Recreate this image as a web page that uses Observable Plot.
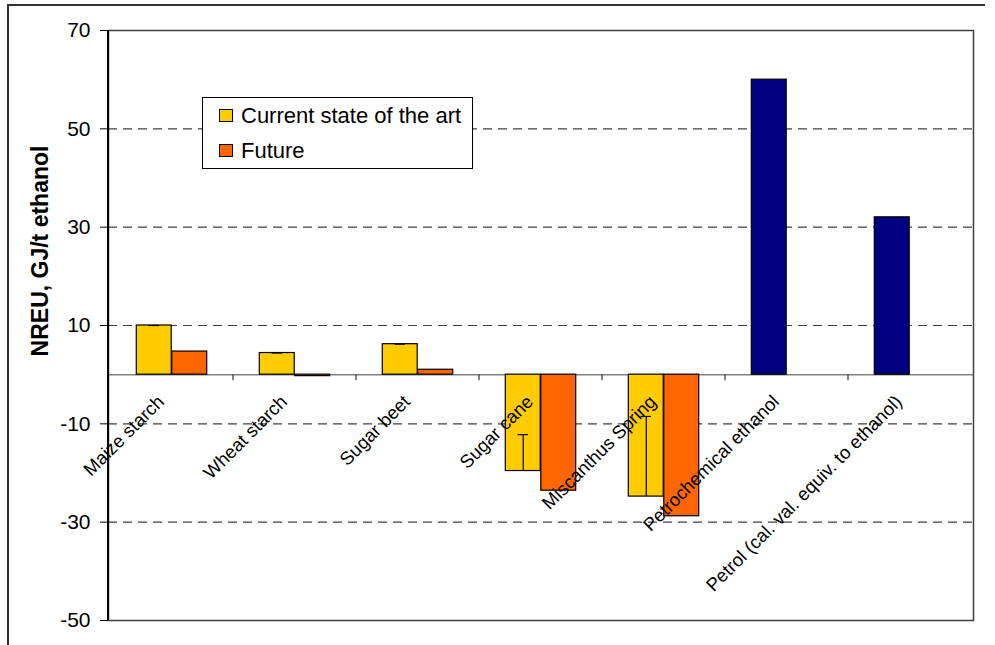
<!DOCTYPE html>
<html>
<head>
<meta charset="utf-8">
<script src="https://cdn.jsdelivr.net/npm/d3@7"></script>
<script src="https://cdn.jsdelivr.net/npm/@observablehq/plot@0.6"></script>
<style>
  html, body { margin: 0; padding: 0; background: #fff; }
  #wrap { position: relative; width: 995px; height: 645px; overflow: hidden; font-family: "Liberation Sans", Arial, sans-serif; }
  #outer { position: absolute; left: 7px; top: 4px; width: 978px; height: 700px; border-top: 2px solid #333; border-left: 2px solid #333; box-sizing: border-box; pointer-events: none; }
  #ytitle { position: absolute; left: 40px; top: 251px; transform: translate(-50%, -50%) rotate(-90deg); font-weight: bold; font-size: 23px; white-space: nowrap; color: #000; }
  #legend { position: absolute; left: 202px; top: 97px; width: 271px; height: 72px; border: 1px solid #000; background: #fff; box-sizing: border-box; font-size: 22px; color: #000; }
  .row { position: relative; height: 35px; line-height: 35px; padding-left: 38px; }
  .sw { position: absolute; left: 16px; top: 11px; width: 12px; height: 11px; border: 1px solid #000; }
</style>
</head>
<body>
<div id="wrap">
  <div id="chart"></div>
  <div id="outer"></div>
  <div id="ytitle">NREU, GJ/t ethanol</div>
  <div id="legend"></div>
</div>
<script>
// ---- data ----
const categories = ["Maize starch", "Wheat starch", "Sugar beet", "Sugar cane", "Miscanthus Spring", "Petrochemical ethanol", "Petrol (cal. val. equiv. to ethanol)"];
const currentValues = [10.0, 4.4, 6.2, -19.6, -24.8, null, null];
const futureValues = [4.7, -0.3, 1.0, -23.6, -28.8, null, null];
const fossilValues = [null, null, null, null, null, 60.0, 32.0];
const currentErrorEnd = [10.0, 4.4, 6.2, -12.2, -8.5, null, null];
const seriesNames = ["Current state of the art", "Future"];
const yTicks = [70, 50, 30, 10, -10, -30, -50];
const gridTicks = [50, 30, 10, -10, -30];

const colors = {current: "#FFCC00", future: "#FF6600", fossil: "#000080"};

const rows = categories.map((c, i) => ({
  category: c,
  current: currentValues[i],
  future: futureValues[i],
  fossil: fossilValues[i],
  errEnd: currentErrorEnd[i]
}));

const curRows = rows.filter(d => d.current != null);
const futRows = rows.filter(d => d.future != null);
const fosRows = rows.filter(d => d.fossil != null);
const errRows = rows.filter(d => d.errEnd != null);

const W = 995, H = 645;
const mL = 108, mR = 22, mT = 30, mB = 25;
const bw = (W - mL - mR) / categories.length;
const barW = 35.5;
const side = (bw - 2 * barW) / 2;

// decorations drawn through the scales: left spine and category separators on the zero line
function decorations(index, scales, values, dimensions) {
  const g = d3.create("svg:g");
  const y0 = scales.y(0);
  categories.slice(1).forEach(c => {
    const x = scales.x(c);
    g.append("line").attr("x1", x).attr("x2", x).attr("y1", y0).attr("y2", y0 + 6)
      .attr("stroke", "#333").attr("stroke-width", 1.2);
  });
  const xl = dimensions.marginLeft;
  g.append("line").attr("x1", xl).attr("x2", xl)
    .attr("y1", dimensions.marginTop).attr("y2", dimensions.height - dimensions.marginBottom)
    .attr("stroke", "#000").attr("stroke-width", 2);
  return g.node();
}

const chart = Plot.plot({
  width: W,
  height: H,
  marginLeft: mL,
  marginRight: mR,
  marginTop: mT,
  marginBottom: mB,
  style: {fontFamily: "'Liberation Sans', Arial, sans-serif", fontSize: "18.5px", color: "#000", background: "transparent", overflow: "visible"},
  x: {type: "band", domain: categories, padding: 0, axis: null},
  y: {domain: [-50, 70], axis: null},
  marks: [
    Plot.gridY(gridTicks, {stroke: "#404040", strokeOpacity: 1, strokeWidth: 1.2, strokeDasharray: "9,6"}),
    Plot.ruleY([0], {stroke: "#808080", strokeWidth: 1.5}),
    Plot.barY(curRows, {x: "category", y: "current", fill: colors.current, stroke: "#000", strokeWidth: 1.2, insetLeft: side, insetRight: side + barW}),
    Plot.barY(futRows, {x: "category", y: "future", fill: colors.future, stroke: "#000", strokeWidth: 1.2, insetLeft: side + barW, insetRight: side}),
    Plot.barY(fosRows, {x: "category", y: "fossil", fill: colors.fossil, stroke: "#000", strokeWidth: 1.2, insetLeft: side, insetRight: side + barW}),
    Plot.ruleX(errRows, {x: "category", y1: "current", y2: "errEnd", stroke: "#000", strokeWidth: 1.2, dx: -(bw / 2 - side - barW / 2)}),
    Plot.tickY(errRows, {x: "category", y: "errEnd", stroke: "#000", strokeWidth: 1.2, insetLeft: side + barW / 2 - 5.5, insetRight: bw - side - barW / 2 - 5.5}),
    Plot.frame({stroke: "#404040", strokeWidth: 1.5}),
    decorations,
    Plot.axisY({ticks: yTicks, tickSize: 8, tickPadding: 10, fontSize: 21, label: null, tickFormat: d => String(d), stroke: "#000"}),
    Plot.text(categories, {x: d => d, y: () => 0, text: d => d, rotate: -45, textAnchor: "end", dx: -11, dy: 24, fontSize: 18.5, fill: "#000"})
  ]
});
document.getElementById("chart").appendChild(chart);

// legend
const legend = document.getElementById("legend");
[colors.current, colors.future].forEach((col, i) => {
  const r = document.createElement("div");
  r.className = "row";
  const s = document.createElement("span");
  s.className = "sw";
  s.style.background = col;
  r.appendChild(s);
  r.appendChild(document.createTextNode(seriesNames[i]));
  legend.appendChild(r);
});
</script>
</body>
</html>
